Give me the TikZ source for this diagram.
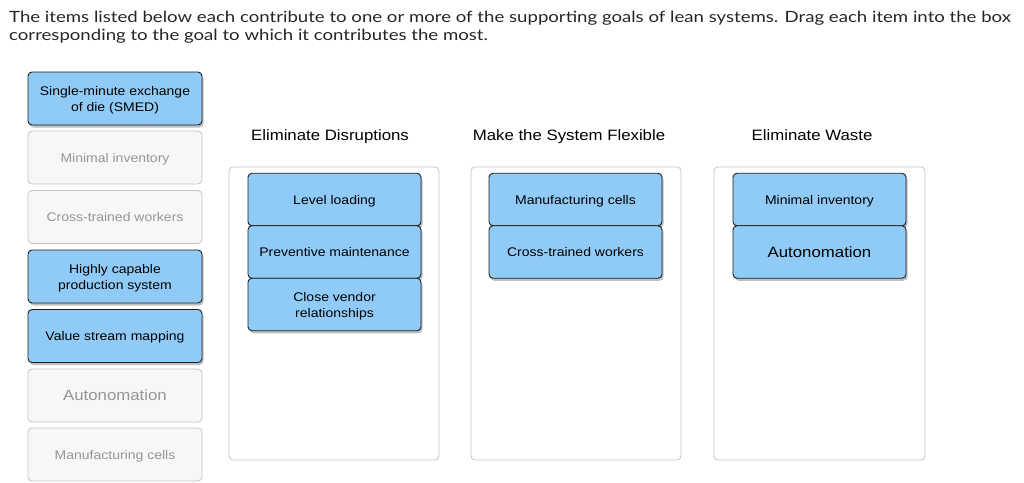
\documentclass[tikz,border=0pt]{standalone}
\usepackage{fontspec}
\setmainfont[FakeStretch=1.12]{Liberation Sans}
\newfontfamily\latofont[FakeStretch=1.2]{Lato}
\usepackage{xcolor}
\usetikzlibrary{shadows}

\definecolor{itemblue}{RGB}{144,203,248}
\definecolor{itemgrey}{RGB}{247,247,247}
\definecolor{greyline}{RGB}{196,196,196}
\definecolor{greytext}{RGB}{150,150,150}
\definecolor{darkline}{RGB}{30,30,30}

\tikzset{
  placed/.style={draw=darkline, fill=itemblue, rounded corners=4pt, line width=0.9pt,
    minimum width=173pt, minimum height=52.5pt, align=center, text=black, text depth=0pt,
    font=\fontsize{12.5}{16}\selectfont,
    drop shadow={shadow xshift=1.5pt, shadow yshift=-2.5pt, opacity=0.25, fill=black}},
  spare/.style={draw=greyline, fill=itemgrey, rounded corners=4pt, line width=0.8pt,
    minimum width=174pt, minimum height=53pt, align=center, text=greytext, text depth=0pt,
    font=\fontsize{12.5}{16}\selectfont},
  target/.style={draw=greyline, rounded corners=4pt, line width=0.8pt, fill=white},
  goal/.style={font=\fontsize{15}{17}\selectfont, text=black, anchor=base, inner sep=0pt}
}

\begin{document}
\begin{tikzpicture}[x=1pt, y=-1pt]
    \useasboundingbox (0,0) rectangle (1024,482);

    % Instructions
    \node[anchor=base west, inner sep=0pt, font=\latofont\fontsize{15.5}{17}\selectfont, text=black!85] (intro1) at (9,22)
      {The items listed below each contribute to one or more of the supporting goals of lean systems. Drag each item into the box};
    \node[anchor=base west, inner sep=0pt, font=\latofont\fontsize{15.5}{17}\selectfont, text=black!85] (intro2) at (9,40)
      {corresponding to the goal to which it contributes the most.};

    % Left column: items still to place
    \node[placed, minimum width=174pt, minimum height=53pt] (smed) at (115,98.5) {Single-minute exchange\\of die (SMED)};
    \node[spare] (srcinv) at (115,157.5) {Minimal inventory};
    \node[spare] (srccross) at (115,217) {Cross-trained workers};
    \node[placed, minimum width=174pt, minimum height=53pt] (capable) at (115,276.5) {Highly capable\\production system};
    \node[placed, minimum width=174pt, minimum height=53pt] (vsm) at (115,336) {Value stream mapping};
    \node[spare, font=\fontsize{15}{17}\selectfont] (srcauto) at (115,395.5) {Autonomation};
    \node[spare] (srccells) at (115,454.5) {Manufacturing cells};

    % Goal headers
    \node[goal] (hdrdisrupt) at (330,140) {Eliminate Disruptions};
    \node[goal] (hdrflex) at (569,140) {Make the System Flexible};
    \node[goal] (hdrwaste) at (812,140) {Eliminate Waste};

    % Drop boxes
    \draw[target] (229,167) rectangle (439,460);
    \draw[target] (471,167) rectangle (681,460);
    \draw[target] (714,167) rectangle (925,460);

    % Eliminate Disruptions
    \node[placed] (level) at (334.5,199.5) {Level loading};
    \node[placed] (prevent) at (334.5,252) {Preventive maintenance};
    \node[placed] (vendor) at (334.5,304.5) {Close vendor\\relationships};

    % Make the System Flexible
    \node[placed] (cells) at (575.5,199.5) {Manufacturing cells};
    \node[placed] (cross) at (575.5,252) {Cross-trained workers};

    % Eliminate Waste
    \node[placed] (inv) at (819.5,199.5) {Minimal inventory};
    \node[placed, font=\fontsize{15}{17}\selectfont] (auto) at (819.5,252) {Autonomation};
\end{tikzpicture}
\end{document}
